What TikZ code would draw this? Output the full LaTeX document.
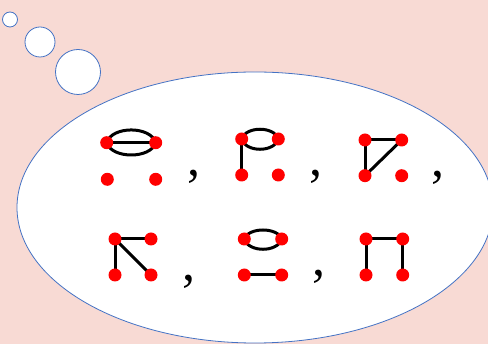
\documentclass[tikz,border=0pt]{standalone}
\usepackage{fontspec}
\setmainfont{Liberation Serif}
\usetikzlibrary{backgrounds}
\definecolor{bgpink}{RGB}{248,218,212}
\definecolor{bubbleblue}{RGB}{68,114,196}
\definecolor{vred}{RGB}{255,0,0}
\tikzset{
  vert/.style={circle,fill=vred,inner sep=0pt,minimum size=13pt},
  edge/.style={line width=3pt,black},
  bubble/.style={draw=bubbleblue,fill=white,line width=0.8pt},
  comma/.style={inner sep=0pt,anchor=base,font=\fontsize{52}{52}\selectfont}
}
\begin{document}
\begin{tikzpicture}[x=1pt,y=-1pt]
\useasboundingbox (0,0) rectangle (488,344);
\begin{pgfonlayer}{background}
\fill[bgpink] (0,0) rectangle (488,344);
% thought bubbles
\draw[bubble] (10,19.5) circle (7.5);
\draw[bubble] (40,42) circle (15);
\draw[bubble] (78,72) circle (22.5);
\draw[bubble] (255,207.5) ellipse (238 and 135.5);
\end{pgfonlayer}
% graph 1
\node[vert] (a1) at (106.7,142.7) {};
\node[vert] (b1) at (155.7,142.7) {};
\node[vert] (c1) at (107.3,179.3) {};
\node[vert] (d1) at (155.7,179.3) {};
% graph 2
\node[vert] (a2) at (241.7,139) {};
\node[vert] (b2) at (278.3,139) {};
\node[vert] (c2) at (241.7,175) {};
\node[vert] (d2) at (278.3,175) {};
% graph 3
\node[vert] (a3) at (365,140) {};
\node[vert] (b3) at (401.7,140) {};
\node[vert] (c3) at (365,175.7) {};
\node[vert] (d3) at (401.7,175.7) {};
% graph 4
\node[vert] (a4) at (115,239) {};
\node[vert] (b4) at (151,239) {};
\node[vert] (c4) at (115,275) {};
\node[vert] (d4) at (151,275) {};
% graph 5
\node[vert] (a5) at (244.3,239) {};
\node[vert] (b5) at (281.7,239) {};
\node[vert] (c5) at (244.3,275) {};
\node[vert] (d5) at (281.7,275) {};
% graph 6
\node[vert] (a6) at (366,239) {};
\node[vert] (b6) at (402.7,239) {};
\node[vert] (c6) at (366,275) {};
\node[vert] (d6) at (402.7,275) {};
\begin{pgfonlayer}{background}
% graph 1
\draw[edge] (a1.center) -- (b1.center);
\draw[edge] (a1.center) .. controls +(5,-17) and +(-5,-17) .. (b1.center);
\draw[edge] (a1.center) .. controls +(5,16.4) and +(-5,16.4) .. (b1.center);
% graph 2
\draw[edge] (a2.center) .. controls +(4,-13) and +(-4,-13) .. (b2.center);
\draw[edge] (a2.center) .. controls +(4,13.7) and +(-4,13.7) .. (b2.center);
\draw[edge] (a2.center) -- (c2.center);
% graph 3
\draw[edge] (a3.center) -- (b3.center);
\draw[edge] (a3.center) -- (c3.center);
\draw[edge] (c3.center) -- (b3.center);
% graph 4
\draw[edge] (a4.center) -- (b4.center);
\draw[edge] (a4.center) -- (c4.center);
\draw[edge] (a4.center) -- (d4.center);
% graph 5
\draw[edge] (a5.center) .. controls +(4,-12) and +(-4,-12) .. (b5.center);
\draw[edge] (a5.center) .. controls +(4,13.7) and +(-4,13.7) .. (b5.center);
\draw[edge] (c5.center) -- (d5.center);
% graph 6
\draw[edge] (a6.center) -- (b6.center);
\draw[edge] (a6.center) -- (c6.center);
\draw[edge] (b6.center) -- (d6.center);
\end{pgfonlayer}
% commas
\node[comma] (k1) at (193.5,176) {,};
\node[comma] (k2) at (316,176) {,};
\node[comma] (k3) at (438,177) {,};
\node[comma] (k4) at (188.5,281) {,};
\node[comma] (k5) at (318.5,276) {,};
\end{tikzpicture}
\end{document}
